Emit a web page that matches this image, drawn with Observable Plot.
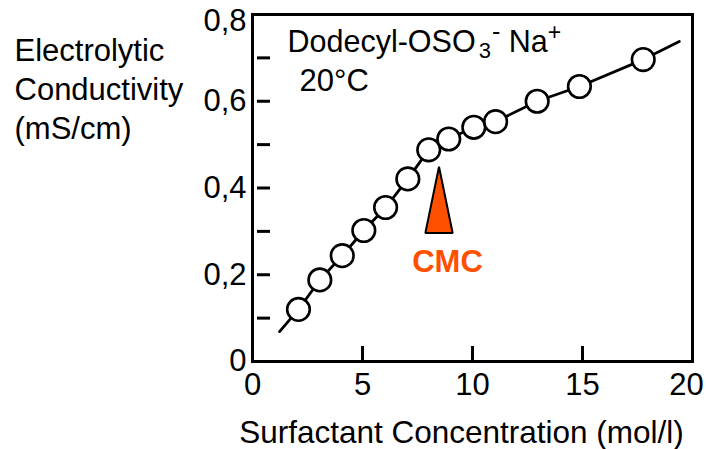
<!DOCTYPE html>
<html>
<head>
<meta charset="utf-8">
<script src="https://cdn.jsdelivr.net/npm/d3@7"></script>
<script src="https://cdn.jsdelivr.net/npm/@observablehq/plot@0.6"></script>
<style>
  html, body { margin: 0; padding: 0; background: #fff; }
  svg { display: block; }
</style>
</head>
<body>
<div id="chart"></div>
<script>
// ---- data ----
const concentration = [2.09, 3.06, 4.08, 5.06, 6.05, 7.06, 8.01, 8.92, 10.06, 11.05, 12.94, 14.86, 17.76];
const conductivity  = [0.120, 0.188, 0.244, 0.302, 0.355, 0.421, 0.488, 0.513, 0.540, 0.553, 0.600, 0.634, 0.696];
const lineStart = [1.23, 0.069];
const lineEnd = [19.4, 0.738];
const cmcX = 8.5;
const triangleX = [7.88, 8.5, 9.12];
const triangleTop = [0.295, 0.448, 0.295];
const triangleBase = 0.295;
const xTickValues = [0, 5, 10, 15];
const xLastTick = [20];
const xInnerTicks = [5, 10, 15];
const yLabelValues = [0, 0.2, 0.4, 0.6];
const yTopLabel = [0.8];
const yInnerTicks = [0.1, 0.2, 0.3, 0.4, 0.5, 0.6, 0.7];
const yAxisLabel = ["Electrolytic", "Conductivity", "(mS/cm)"];
const xAxisLabel = "Surfactant Concentration (mol/l)";
const titleText = "Dodecyl-OSO3- Na+";
const tempText = "20°C";
const cmcText = "CMC";

const orange = "#ff5000";
const font = "'Liberation Sans', Arial, Helvetica, sans-serif";
const fmtY = d => d === 0 ? "0" : d.toFixed(1).replace(".", ",");

const points = concentration.map((x, i) => ({x, y: conductivity[i]}));
const linePts = [{x: lineStart[0], y: lineStart[1]}, ...points, {x: lineEnd[0], y: lineEnd[1]}];
const tri = triangleX.map((x, i) => ({x, y2: triangleTop[i], y1: triangleBase}));

const chart = Plot.plot({
  width: 706,
  height: 449,
  marginLeft: 252,
  marginRight: 14,
  marginTop: 14,
  marginBottom: 88,
  style: {fontFamily: font, fontSize: "31px", color: "#000", background: "#fff"},
  x: {domain: [0, 20]},
  y: {domain: [0, 0.8]},
  marks: [
    Plot.line(linePts, {x: "x", y: "y", stroke: "#000", strokeWidth: 2.8}),
    Plot.dot(points, {x: "x", y: "y", r: 11.3, fill: "#fff", stroke: "#000", strokeWidth: 2.6}),
    Plot.areaY(tri, {x: "x", y1: "y1", y2: "y2", fill: orange, stroke: "#000", strokeWidth: 2, strokeLinejoin: "miter"}),
    Plot.text([cmcText], {x: cmcX, y: triangleBase, text: d => d, dx: 8, dy: 38, lineAnchor: "bottom", fill: orange, fontWeight: "bold", fontSize: 31}),
    Plot.tickY(yInnerTicks, {y: d => d, insetLeft: 5, insetRight: 422, stroke: "#000", strokeWidth: 3}),
    Plot.tickX(xInnerTicks, {x: d => d, insetTop: 332, stroke: "#000", strokeWidth: 3}),
    Plot.frame({stroke: "#000", strokeWidth: 3}),
    Plot.axisX(xTickValues, {tickSize: 0, tickPadding: 11, label: null, tickFormat: d => String(d), fontSize: 31}),
    Plot.axisX(xLastTick, {tickSize: 0, tickPadding: 11, label: null, tickFormat: d => String(d), fontSize: 31, dx: -6}),
    Plot.axisY(yLabelValues, {tickSize: 0, tickPadding: 6, label: null, tickFormat: fmtY, fontSize: 31}),
    Plot.axisY(yTopLabel, {tickSize: 0, tickPadding: 6, label: null, tickFormat: fmtY, fontSize: 31, dy: 7}),
    Plot.text([xAxisLabel], {frameAnchor: "bottom", text: d => d, dx: -11, dy: 81, lineAnchor: "bottom", fontSize: 31.5}),
    Plot.text([yAxisLabel.join("\n")], {frameAnchor: "top-left", text: d => d, dx: -238, dy: 19, textAnchor: "start", lineAnchor: "top", lineHeight: 1.25, fontSize: 31}),
    Plot.text([titleText], {frameAnchor: "top-left", text: d => d, dx: 35, dy: 37, textAnchor: "start", lineAnchor: "bottom", fontSize: 30.5}),
    Plot.text([tempText], {frameAnchor: "top-left", text: d => d, dx: 47, dy: 76, textAnchor: "start", lineAnchor: "bottom", fontSize: 31})
  ]
});

document.getElementById("chart").appendChild(chart);

// rich formatting of the title (subscript / superscripts)
d3.select(chart).selectAll("text").filter(function() { return this.textContent === titleText; })
  .each(function() {
    const t = d3.select(this);
    t.text(null);
    t.append("tspan").text("Dodecyl-OSO");
    t.append("tspan").attr("dx", 3).attr("dy", 6).attr("font-size", 22).text("3");
    t.append("tspan").attr("dx", 1).attr("dy", -18).attr("font-size", 25).text("-");
    t.append("tspan").attr("dy", 12).text(" Na");
    t.append("tspan").attr("dy", -12).attr("font-size", 23).text("+");
  });
</script>
</body>
</html>
